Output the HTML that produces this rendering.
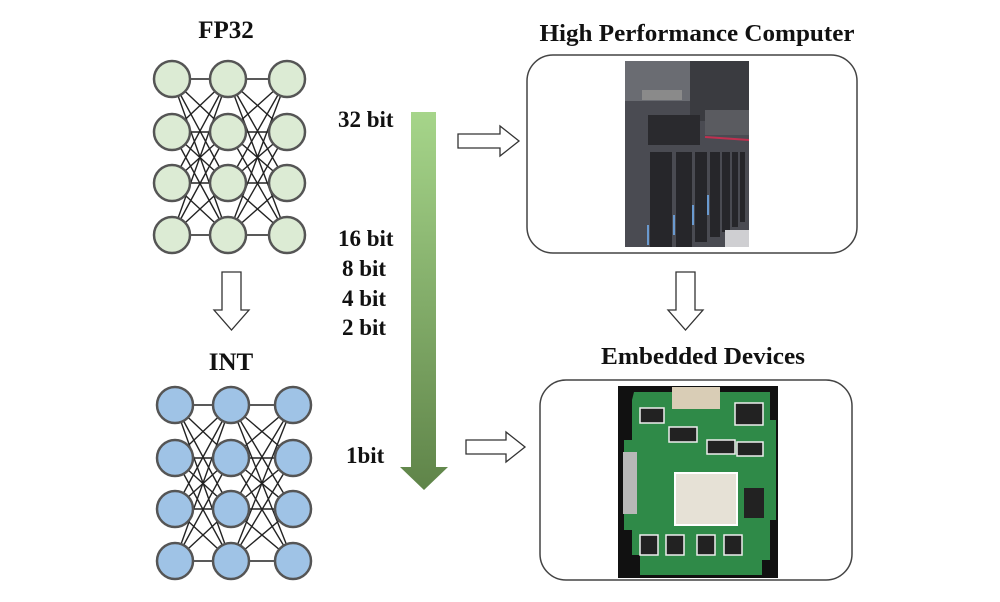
<!DOCTYPE html>
<html><head><meta charset="utf-8"><style>
html,body{margin:0;padding:0;background:#fff}
svg{display:block}
text{font-family:"Liberation Serif",serif;font-weight:bold;fill:#111}
</style></head><body>
<svg width="1000" height="602" viewBox="0 0 1000 602" xmlns="http://www.w3.org/2000/svg">
<defs>
<linearGradient id="g" x1="0" y1="0" x2="0" y2="1">
<stop offset="0" stop-color="#a6d58a"/><stop offset="1" stop-color="#5f8449"/>
</linearGradient>
</defs>
<rect width="1000" height="602" fill="#fff"/>
<text x="226" y="38" font-size="25" text-anchor="middle">FP32</text>
<text x="231" y="370" font-size="25" text-anchor="middle">INT</text>
<text x="697" y="41" font-size="24" text-anchor="middle" textLength="315" lengthAdjust="spacingAndGlyphs">High Performance Computer</text>
<text x="703" y="364" font-size="24" text-anchor="middle" textLength="204" lengthAdjust="spacingAndGlyphs">Embedded Devices</text>
<g font-size="23">
<text x="338" y="127">32 bit</text>
<text x="338" y="246">16 bit</text>
<text x="342" y="276">8 bit</text>
<text x="342" y="306">4 bit</text>
<text x="342" y="335">2 bit</text>
<text x="346" y="463">1bit</text>
</g>
<path d="M411 112 H436 V467 H448 L424 490 L400 467 H411 Z" fill="url(#g)"/>
<g fill="#fff" stroke="#333" stroke-width="1.3">
<path d="M458 134 H500 V126 L519 141 L500 156 V148 H458 Z"/>
<path d="M466 440 H506 V432 L525 447 L506 462 V454 H466 Z"/>
<path d="M222 272 H241 V310 H249 L231.5 330 L214 310 H222 Z"/>
<path d="M676 272 H695 V310 H703 L685.5 330 L668 310 H676 Z"/>
</g>
<g stroke="#222" stroke-width="1.4">
<line x1="172" y1="79" x2="228" y2="79"/><line x1="172" y1="79" x2="228" y2="132"/><line x1="172" y1="79" x2="228" y2="183"/><line x1="172" y1="79" x2="228" y2="235"/>
<line x1="172" y1="132" x2="228" y2="79"/><line x1="172" y1="132" x2="228" y2="132"/><line x1="172" y1="132" x2="228" y2="183"/><line x1="172" y1="132" x2="228" y2="235"/>
<line x1="172" y1="183" x2="228" y2="79"/><line x1="172" y1="183" x2="228" y2="132"/><line x1="172" y1="183" x2="228" y2="183"/><line x1="172" y1="183" x2="228" y2="235"/>
<line x1="172" y1="235" x2="228" y2="79"/><line x1="172" y1="235" x2="228" y2="132"/><line x1="172" y1="235" x2="228" y2="183"/><line x1="172" y1="235" x2="228" y2="235"/>
<line x1="228" y1="79" x2="287" y2="79"/><line x1="228" y1="79" x2="287" y2="132"/><line x1="228" y1="79" x2="287" y2="183"/><line x1="228" y1="79" x2="287" y2="235"/>
<line x1="228" y1="132" x2="287" y2="79"/><line x1="228" y1="132" x2="287" y2="132"/><line x1="228" y1="132" x2="287" y2="183"/><line x1="228" y1="132" x2="287" y2="235"/>
<line x1="228" y1="183" x2="287" y2="79"/><line x1="228" y1="183" x2="287" y2="132"/><line x1="228" y1="183" x2="287" y2="183"/><line x1="228" y1="183" x2="287" y2="235"/>
<line x1="228" y1="235" x2="287" y2="79"/><line x1="228" y1="235" x2="287" y2="132"/><line x1="228" y1="235" x2="287" y2="183"/><line x1="228" y1="235" x2="287" y2="235"/>
<g fill="#dcebd4" stroke="#555" stroke-width="2.5">
<circle cx="172" cy="79" r="18"/><circle cx="172" cy="132" r="18"/><circle cx="172" cy="183" r="18"/><circle cx="172" cy="235" r="18"/>
<circle cx="228" cy="79" r="18"/><circle cx="228" cy="132" r="18"/><circle cx="228" cy="183" r="18"/><circle cx="228" cy="235" r="18"/>
<circle cx="287" cy="79" r="18"/><circle cx="287" cy="132" r="18"/><circle cx="287" cy="183" r="18"/><circle cx="287" cy="235" r="18"/>
</g>
</g>
<g stroke="#222" stroke-width="1.4" transform="translate(3,326)">
<line x1="172" y1="79" x2="228" y2="79"/><line x1="172" y1="79" x2="228" y2="132"/><line x1="172" y1="79" x2="228" y2="183"/><line x1="172" y1="79" x2="228" y2="235"/>
<line x1="172" y1="132" x2="228" y2="79"/><line x1="172" y1="132" x2="228" y2="132"/><line x1="172" y1="132" x2="228" y2="183"/><line x1="172" y1="132" x2="228" y2="235"/>
<line x1="172" y1="183" x2="228" y2="79"/><line x1="172" y1="183" x2="228" y2="132"/><line x1="172" y1="183" x2="228" y2="183"/><line x1="172" y1="183" x2="228" y2="235"/>
<line x1="172" y1="235" x2="228" y2="79"/><line x1="172" y1="235" x2="228" y2="132"/><line x1="172" y1="235" x2="228" y2="183"/><line x1="172" y1="235" x2="228" y2="235"/>
<line x1="228" y1="79" x2="290" y2="79"/><line x1="228" y1="79" x2="290" y2="132"/><line x1="228" y1="79" x2="290" y2="183"/><line x1="228" y1="79" x2="290" y2="235"/>
<line x1="228" y1="132" x2="290" y2="79"/><line x1="228" y1="132" x2="290" y2="132"/><line x1="228" y1="132" x2="290" y2="183"/><line x1="228" y1="132" x2="290" y2="235"/>
<line x1="228" y1="183" x2="290" y2="79"/><line x1="228" y1="183" x2="290" y2="132"/><line x1="228" y1="183" x2="290" y2="183"/><line x1="228" y1="183" x2="290" y2="235"/>
<line x1="228" y1="235" x2="290" y2="79"/><line x1="228" y1="235" x2="290" y2="132"/><line x1="228" y1="235" x2="290" y2="183"/><line x1="228" y1="235" x2="290" y2="235"/>
<g fill="#9fc3e6" stroke="#555" stroke-width="2.5">
<circle cx="172" cy="79" r="18"/><circle cx="172" cy="132" r="18"/><circle cx="172" cy="183" r="18"/><circle cx="172" cy="235" r="18"/>
<circle cx="228" cy="79" r="18"/><circle cx="228" cy="132" r="18"/><circle cx="228" cy="183" r="18"/><circle cx="228" cy="235" r="18"/>
<circle cx="290" cy="79" r="18"/><circle cx="290" cy="132" r="18"/><circle cx="290" cy="183" r="18"/><circle cx="290" cy="235" r="18"/>
</g>
</g>
<rect x="527" y="55" width="330" height="198" rx="26" fill="none" stroke="#444" stroke-width="1.5"/>
<rect x="540" y="380" width="312" height="200" rx="26" fill="none" stroke="#444" stroke-width="1.5"/>
<g>
<rect x="625" y="61" width="124" height="186" fill="#4a4b52"/>
<rect x="625" y="61" width="124" height="40" fill="#6a6c72"/>
<rect x="690" y="61" width="59" height="60" fill="#3a3b40"/>
<rect x="642" y="90" width="40" height="10" fill="#8a8a8a"/>
<rect x="648" y="115" width="52" height="30" fill="#2a2a2e"/>
<rect x="705" y="110" width="44" height="25" fill="#5a5b60"/>
<line x1="705" y1="137" x2="749" y2="140" stroke="#c03050" stroke-width="2"/>
<g fill="#26262a">
<rect x="650" y="152" width="22" height="95"/><rect x="676" y="152" width="16" height="95"/>
<rect x="695" y="152" width="12" height="90"/><rect x="710" y="152" width="10" height="85"/>
<rect x="722" y="152" width="8" height="80"/><rect x="732" y="152" width="6" height="75"/>
<rect x="740" y="152" width="5" height="70"/>
</g>
<g stroke="#6a9ad0" stroke-width="2">
<line x1="648" y1="225" x2="648" y2="245"/><line x1="674" y1="215" x2="674" y2="235"/><line x1="693" y1="205" x2="693" y2="225"/><line x1="708" y1="195" x2="708" y2="215"/>
</g>
<rect x="725" y="230" width="24" height="17" fill="#cfcfd2"/>
</g>
<g>
<rect x="618" y="386" width="160" height="192" fill="#111"/>
<path d="M634 392 H770 V420 H776 V520 H770 V560 H762 V575 H640 V555 H632 V530 H624 V440 H632 V400 Z" fill="#2f8a48"/>
<rect x="672" y="387" width="48" height="22" fill="#d9cdb6"/>
<rect x="623" y="452" width="14" height="62" fill="#b8b8b8"/>
<rect x="675" y="473" width="62" height="52" fill="#e6e1d6" stroke="#fff" stroke-width="2"/>
<g fill="#222" stroke="#eee" stroke-width="1.5">
<rect x="640" y="408" width="24" height="15"/><rect x="669" y="427" width="28" height="15"/>
<rect x="735" y="403" width="28" height="22"/><rect x="707" y="440" width="28" height="14"/>
<rect x="737" y="442" width="26" height="14"/>
<rect x="640" y="535" width="18" height="20"/><rect x="666" y="535" width="18" height="20"/>
<rect x="697" y="535" width="18" height="20"/><rect x="724" y="535" width="18" height="20"/>
</g>
<rect x="744" y="488" width="20" height="30" fill="#222"/>
</g>
</svg>
</body></html>
